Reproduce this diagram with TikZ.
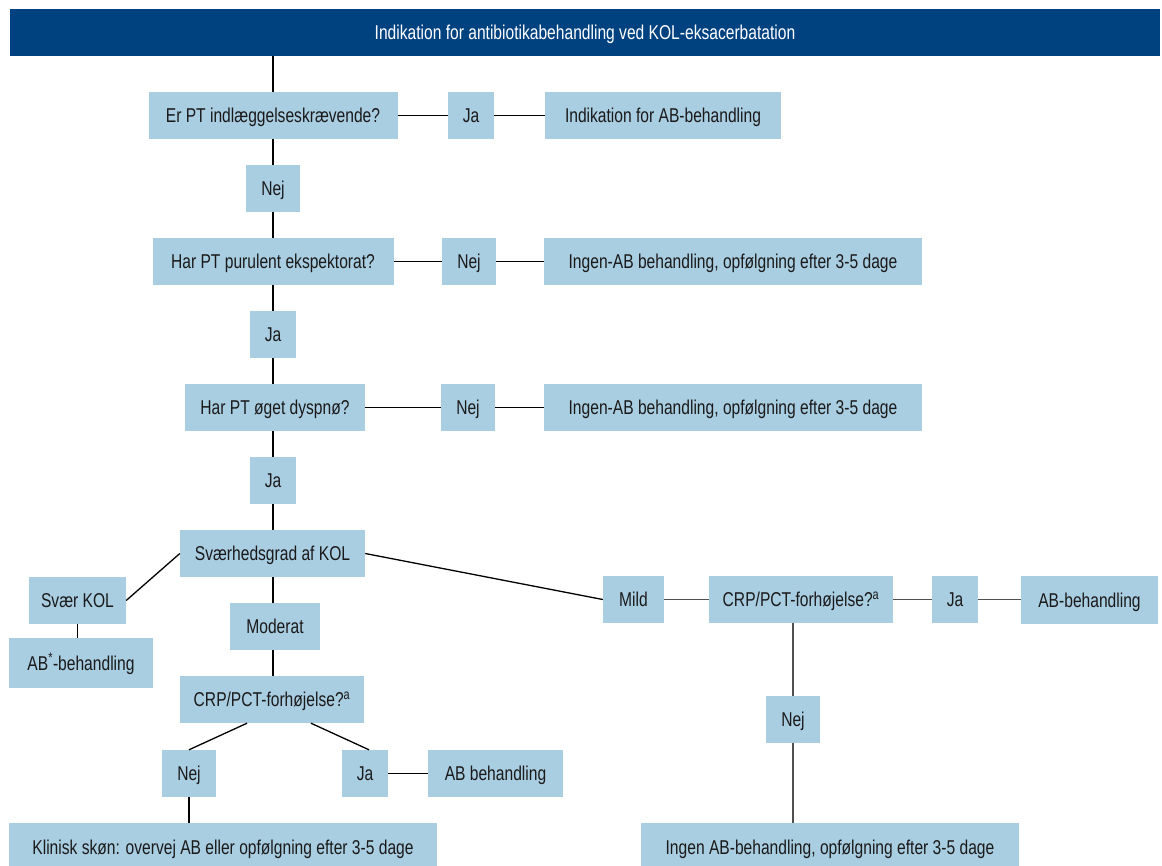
\documentclass[tikz,border=0pt]{standalone}
\usepackage{fontspec}
\setmainfont{Liberation Sans}[FakeStretch=0.78]
\definecolor{hdr}{RGB}{0,66,128}
\definecolor{bx}{RGB}{169,205,225}
\definecolor{txt}{RGB}{26,26,26}
\definecolor{lgray}{RGB}{80,80,80}
\begin{document}
\begin{tikzpicture}[x=1pt,y=-1pt,
  box/.style={fill=bx, text=txt, inner sep=0pt, text height=14.2pt, text depth=0pt,
    font=\fontsize{20}{22}\selectfont},
  ln/.style={line width=1.3pt, black},
  gl/.style={line width=1.5pt, lgray}]
\useasboundingbox (0,0) rectangle (1162,865);
\fill[white] (0,0) rectangle (1162,865);

% header
\node[box, fill=hdr, text=white, minimum width=1150pt, minimum height=47pt] (hd) at (585,32.5) {Indikation for antibiotikabehandling ved KOL-eksacerbatation};

% main column
\node[box, minimum width=249pt, minimum height=47pt] (q1) at (273,115.5) {Er PT indlæggelseskrævende?};
\node[box, minimum width=46pt, minimum height=47pt] (ja1) at (471,115.5) {Ja};
\node[box, minimum width=236pt, minimum height=47pt] (ind) at (663,115.5) {Indikation for AB-behandling};
\node[box, minimum width=54pt, minimum height=47pt] (nej1) at (273,188.5) {Nej};

\node[box, minimum width=241pt, minimum height=47pt] (q2) at (273,261.5) {Har PT purulent ekspektorat?};
\node[box, minimum width=54pt, minimum height=47pt] (nej2) at (469,261.5) {Nej};
\node[box, minimum width=378pt, minimum height=47pt] (ing1) at (733,261.5) {Ingen-AB behandling, opfølgning efter 3-5 dage};
\node[box, minimum width=46pt, minimum height=47pt] (ja2) at (273,334.5) {Ja};

\node[box, minimum width=180pt, minimum height=47pt] (q3) at (275,407.5) {Har PT øget dyspnø?};
\node[box, minimum width=54pt, minimum height=47pt] (nej3) at (468,407.5) {Nej};
\node[box, minimum width=378pt, minimum height=47pt] (ing2) at (733,407.5) {Ingen-AB behandling, opfølgning efter 3-5 dage};
\node[box, minimum width=46pt, minimum height=47pt] (ja3) at (273,480.5) {Ja};

\node[box, minimum width=185pt, minimum height=47pt] (sev) at (272.5,553.5) {Sværhedsgrad af KOL};

% left branch
\node[box, minimum width=97pt, minimum height=47pt] (svaer) at (77.5,600.5) {Svær KOL};
\node[box, minimum width=144pt, minimum height=50pt] (abst) at (81,663) {AB\textsuperscript{*}-behandling};

% moderate branch
\node[box, minimum width=90pt, minimum height=47pt] (mod) at (275,626.5) {Moderat};
\node[box, minimum width=184pt, minimum height=47pt] (crp1) at (272,699.5) {CRP/PCT-forhøjelse?\textsuperscript{a}};
\node[box, minimum width=54pt, minimum height=47pt] (nej4) at (189,773.5) {Nej};
\node[box, minimum width=46pt, minimum height=47pt] (ja4) at (365,773.5) {Ja};
\node[box, minimum width=135pt, minimum height=47pt] (abb) at (495.5,773.5) {AB behandling};
\node[box, minimum width=428pt, minimum height=48pt] (klin) at (223,847) {Klinisk skøn: overvej AB eller opfølgning efter 3-5 dage};

% mild branch
\node[box, minimum width=61pt, minimum height=47pt] (mild) at (633.5,599.5) {Mild};
\node[box, minimum width=184pt, minimum height=47pt] (crp2) at (801,599.5) {CRP/PCT-forhøjelse?\textsuperscript{a}};
\node[box, minimum width=46pt, minimum height=47pt] (ja5) at (955,599.5) {Ja};
\node[box, minimum width=137pt, minimum height=48pt] (ab2) at (1089.5,600) {AB-behandling};
\node[box, minimum width=54pt, minimum height=47pt] (nej5) at (793,719.5) {Nej};
\node[box, minimum width=378pt, minimum height=48pt] (ing3) at (830,847) {Ingen AB-behandling, opfølgning efter 3-5 dage};

% connectors main column
\draw[ln] (q1.north |- hd.south) -- (q1.north);
\draw[ln] (q1) -- (ja1);
\draw[ln] (ja1) -- (ind);
\draw[ln] (q1.south -| nej1.north) -- (nej1.north);
\draw[ln] (nej1.south) -- (q2.north -| nej1.south);
\draw[ln] (q2) -- (nej2);
\draw[ln] (nej2) -- (ing1);
\draw[ln] (q2.south -| ja2.north) -- (ja2.north);
\draw[ln] (ja2.south) -- (q3.north -| ja2.south);
\draw[ln] (q3) -- (nej3);
\draw[ln] (nej3) -- (ing2);
\draw[ln] (q3.south -| ja3.north) -- (ja3.north);
\draw[ln] (ja3.south) -- (sev.north -| ja3.south);

% severity branches
\draw[ln] (sev.west) -- (svaer.east);
\draw[ln] (svaer.south) -- (svaer.south |- abst.north);
\draw[ln] (sev.south -| ja3.south) -- (mod.north -| ja3.south);
\draw[ln] (mod.south -| ja3.south) -- (crp1.north -| ja3.south);
\draw[ln] ([xshift=-25pt]crp1.south) -- (nej4.north);
\draw[ln] ([xshift=39pt]crp1.south) -- ([xshift=4pt]ja4.north);
\draw[ln] (ja4) -- (abb);
\draw[ln] (nej4.south) -- (nej4.south |- klin.north);
\draw[ln] (sev.east) -- (mild.west);

% mild branch
\draw[gl] (mild) -- (crp2);
\draw[gl] (crp2) -- (ja5);
\draw[gl] (ja5) -- (ab2.west |- ja5.east);
\draw[gl] (crp2.south -| nej5.north) -- (nej5.north);
\draw[gl] (nej5.south) -- (nej5.south |- ing3.north);
\end{tikzpicture}
\end{document}
